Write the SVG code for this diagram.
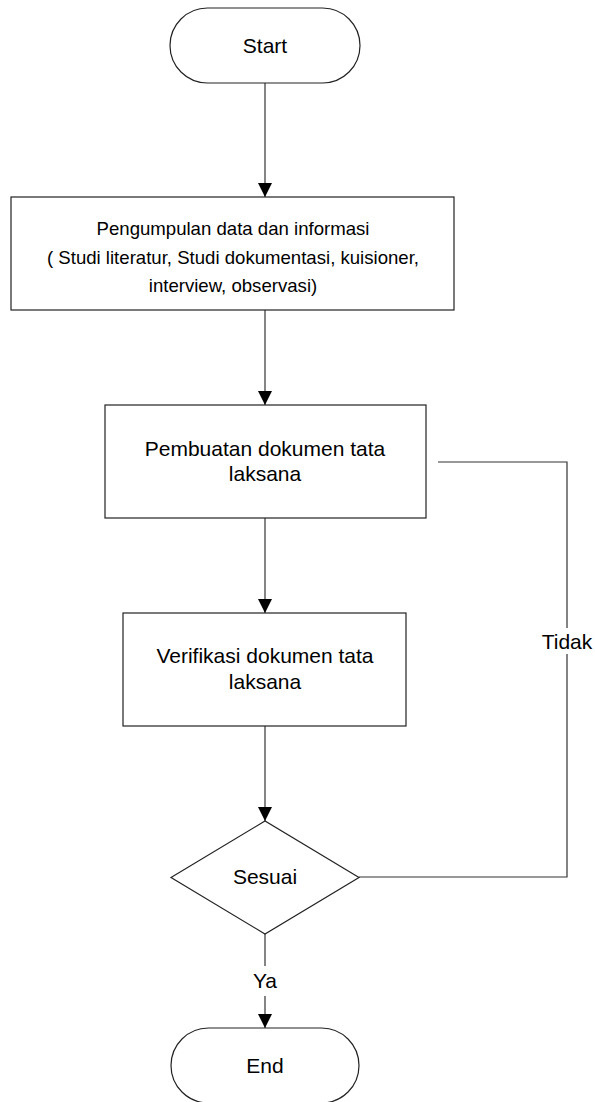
<svg xmlns="http://www.w3.org/2000/svg" width="595" height="1102" viewBox="0 0 595 1102">
<style>
.shape{fill:#fff;stroke:#222;stroke-width:1.2}
.conn{fill:none;stroke:#333;stroke-width:1.2}
text{font-family:"Liberation Sans",Arial,sans-serif;fill:#000;text-anchor:middle}
.t21{font-size:21px}
.t18{font-size:18.6px}
</style>
<defs>
<marker id="arrow" markerUnits="userSpaceOnUse" markerWidth="14" markerHeight="14" refX="14" refY="7" orient="auto">
<path d="M0,0 L14,7 L0,14 Z" fill="#000"/>
</marker>
</defs>
<rect width="595" height="1102" fill="#fff"/>
<g id="connectors">
<line class="conn" x1="265" y1="83" x2="265" y2="197" marker-end="url(#arrow)"/>
<line class="conn" x1="265" y1="310" x2="265" y2="405" marker-end="url(#arrow)"/>
<line class="conn" x1="265" y1="518" x2="265" y2="613" marker-end="url(#arrow)"/>
<line class="conn" x1="265" y1="726" x2="265" y2="821" marker-end="url(#arrow)"/>
<line class="conn" x1="265" y1="934" x2="265" y2="1028" marker-end="url(#arrow)"/>
<polyline class="conn" points="359,877 567,877 567,462 438,462"/>
<rect x="250" y="966" width="30" height="30" fill="#fff"/>
<text class="t21" x="265" y="988">Ya</text>
<rect x="538" y="628" width="58" height="26" fill="#fff"/>
<text class="t21" x="567" y="649">Tidak</text>
</g>
<g id="start">
<rect class="shape" x="170" y="8" width="190" height="75" rx="37.5" ry="37.5"/>
<text class="t21" x="265" y="53">Start</text>
</g>
<g id="pengumpulan">
<rect class="shape" x="11" y="197" width="443" height="113"/>
<text class="t18" x="233" y="235">Pengumpulan data dan informasi</text>
<text class="t18" x="233" y="263.5">( Studi literatur, Studi dokumentasi, kuisioner,</text>
<text class="t18" x="233" y="292">interview, observasi)</text>
</g>
<g id="pembuatan">
<rect class="shape" x="105" y="405" width="321" height="113"/>
<text class="t21" x="265" y="456">Pembuatan dokumen tata</text>
<text class="t21" x="265" y="481">laksana</text>
</g>
<g id="verifikasi">
<rect class="shape" x="123" y="613" width="283" height="113"/>
<text class="t21" x="265" y="663">Verifikasi dokumen tata</text>
<text class="t21" x="265" y="689">laksana</text>
</g>
<g id="sesuai">
<polygon class="shape" points="171,877.5 265,821 359,877.5 265,934"/>
<text class="t21" x="265" y="884">Sesuai</text>
</g>
<g id="end">
<rect class="shape" x="171" y="1028" width="188" height="75" rx="37.5" ry="37.5"/>
<text class="t21" x="265" y="1073">End</text>
</g>
</svg>
